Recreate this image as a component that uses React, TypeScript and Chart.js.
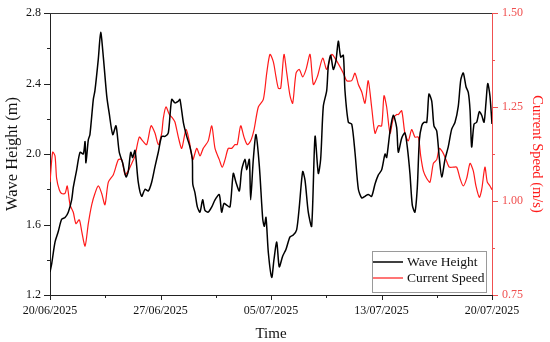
import React, { useEffect, useRef } from 'react';
import { Chart, registerables } from 'chart.js';

Chart.register(...registerables);

// Time axis in days after 20/06/2025 00:00
const dateLabels = ['20/06/2025', '27/06/2025', '05/07/2025', '13/07/2025', '20/07/2025'];

const waveDays = [
  0, 0.12, 0.34, 0.56, 0.79, 1.02, 1.24, 1.47, 1.58, 1.81,
  2.04, 2.26, 2.38, 2.44, 2.6, 2.71, 2.94, 3.05, 3.28, 3.44,
  3.62, 3.85, 4.02, 4.26, 4.48, 4.7, 4.93, 5.16, 5.31, 5.48,
  5.61, 5.77, 5.99, 6.22, 6.45, 6.67, 6.9, 7.13, 7.35, 7.58,
  7.81, 8.03, 8.26, 8.48, 8.71, 8.82, 9.05, 9.28, 9.5, 9.66,
  9.69, 9.84, 10.0, 10.18, 10.36, 10.52, 10.74, 10.98, 11.2, 11.49,
  11.65, 11.81, 11.99, 12.22, 12.44, 12.62, 12.85, 13.01, 13.24, 13.35,
  13.53, 13.62, 13.8, 13.98, 14.21, 14.44, 14.55, 14.66, 14.82, 15.05,
  15.2, 15.39, 15.56, 15.79, 16.02, 16.29, 16.51, 16.74, 16.92, 17.15,
  17.31, 17.53, 17.76, 17.99, 18.21, 18.37, 18.55, 18.78, 18.89, 19.05,
  19.23, 19.41, 19.57, 19.73, 19.91, 20.02, 20.25, 20.48, 20.7, 20.93,
  21.16, 21.38, 21.6, 21.83, 22.06, 22.28, 22.51, 22.74, 22.85, 23.08,
  23.3, 23.53, 23.64, 23.87, 24.09, 24.25, 24.43, 24.59, 24.77, 24.93,
  25.07, 25.23, 25.38, 25.57, 25.72, 25.91, 26.06, 26.25, 26.42, 26.59,
  26.81, 27.03, 27.26, 27.49, 27.71, 27.88, 28.05, 28.24, 28.39, 28.51,
  28.62, 28.78, 28.96, 29.14, 29.3, 29.46, 29.59, 29.71, 29.86, 30,
];

const waveHeight = [
  1.33, 1.38, 1.50, 1.56, 1.63, 1.64, 1.67, 1.74, 1.81, 1.91,
  2.01, 2.00, 2.07, 1.95, 2.08, 2.11, 2.31, 2.36, 2.54, 2.69,
  2.55, 2.33, 2.23, 2.11, 2.16, 2.01, 1.95, 1.87, 1.90, 2.01,
  1.98, 2.02, 1.84, 1.76, 1.80, 1.79, 1.84, 1.93, 2.01, 2.10,
  2.10, 2.12, 2.31, 2.29, 2.30, 2.31, 2.18, 2.10, 2.04, 1.97,
  1.83, 1.78, 1.70, 1.67, 1.74, 1.68, 1.67, 1.70, 1.74, 1.77,
  1.67, 1.72, 1.71, 1.70, 1.89, 1.84, 1.79, 1.91, 1.97, 1.91,
  1.97, 1.74, 1.97, 2.11, 1.93, 1.63, 1.59, 1.64, 1.44, 1.30,
  1.40, 1.50, 1.36, 1.42, 1.46, 1.53, 1.54, 1.57, 1.70, 1.90,
  1.85, 1.67, 1.59, 2.10, 1.89, 1.97, 2.27, 2.36, 2.50, 2.56,
  2.48, 2.53, 2.64, 2.55, 2.56, 2.36, 2.18, 2.17, 2.01, 1.80,
  1.75, 1.76, 1.77, 1.76, 1.83, 1.88, 1.91, 2.00, 1.98, 2.13,
  2.22, 2.15, 2.01, 2.09, 2.12, 2.04, 1.89, 1.71, 1.67, 1.81,
  2.08, 2.16, 2.18, 2.18, 2.34, 2.30, 2.16, 2.13, 1.98, 1.87,
  1.97, 2.04, 2.14, 2.18, 2.27, 2.42, 2.46, 2.38, 2.35, 2.25,
  2.04, 2.17, 2.18, 2.24, 2.22, 2.18, 2.29, 2.40, 2.33, 2.17,
];

const currentDays = [
  0, 0.18, 0.34, 0.45, 0.63, 0.79, 1.02, 1.17, 1.36, 1.58,
  1.76, 1.99, 2.15, 2.38, 2.6, 2.83, 3.05, 3.28, 3.51, 3.73,
  3.96, 4.3, 4.64, 4.87, 5.09, 5.31, 5.55, 5.77, 6.06, 6.29,
  6.56, 6.86, 7.13, 7.35, 7.58, 7.69, 7.87, 8.1, 8.33, 8.48,
  8.71, 8.94, 9.23, 9.45, 9.69, 9.96, 10.18, 10.4, 10.74, 10.98,
  11.2, 11.49, 11.69, 11.88, 12.1, 12.33, 12.56, 12.71, 12.94, 13.17,
  13.39, 13.62, 13.85, 14.14, 14.48, 14.71, 14.93, 15.16, 15.34, 15.5,
  15.66, 15.88, 16.07, 16.29, 16.47, 16.7, 16.92, 17.15, 17.38, 17.65,
  17.87, 18.14, 18.51, 18.78, 19.12, 19.34, 19.64, 19.91, 20.14, 20.48,
  20.7, 20.93, 21.16, 21.38, 21.6, 21.83, 22.06, 22.28, 22.51, 22.67,
  22.85, 23.08, 23.3, 23.53, 23.64, 23.87, 24.09, 24.32, 24.55, 24.77,
  25.0, 25.16, 25.34, 25.57, 25.79, 26.02, 26.25, 26.42, 26.65, 26.88,
  27.1, 27.37, 27.6, 27.83, 28.05, 28.28, 28.51, 28.73, 28.91, 29.14,
  29.3, 29.52, 29.68, 29.86, 30,
];

const currentSpeed = [
  1.05, 1.13, 1.12, 1.06, 1.03, 1.02, 1.02, 1.04, 0.99, 0.97,
  0.94, 0.95, 0.92, 0.88, 0.94, 0.99, 1.02, 1.04, 1.02, 0.99,
  1.05, 1.07, 1.11, 1.11, 1.07, 1.08, 1.10, 1.12, 1.17, 1.16,
  1.15, 1.20, 1.18, 1.15, 1.18, 1.22, 1.25, 1.23, 1.22, 1.21,
  1.17, 1.14, 1.19, 1.16, 1.11, 1.14, 1.12, 1.14, 1.16, 1.20,
  1.14, 1.11, 1.09, 1.11, 1.14, 1.14, 1.15, 1.15, 1.20, 1.17,
  1.15, 1.16, 1.19, 1.25, 1.27, 1.34, 1.39, 1.37, 1.33, 1.30,
  1.30, 1.39, 1.34, 1.28, 1.26, 1.34, 1.35, 1.33, 1.35, 1.39,
  1.31, 1.33, 1.38, 1.35, 1.39, 1.38, 1.36, 1.34, 1.32, 1.32,
  1.34, 1.31, 1.29, 1.26, 1.32, 1.25, 1.18, 1.20, 1.20, 1.28,
  1.25, 1.18, 1.22, 1.23, 1.23, 1.24, 1.18, 1.16, 1.19, 1.17,
  1.17, 1.12, 1.08, 1.06, 1.05, 1.10, 1.11, 1.14, 1.13, 1.11,
  1.09, 1.09, 1.09, 1.06, 1.04, 1.06, 1.10, 1.08, 1.04, 1.01,
  1.03, 1.09, 1.05, 1.04, 1.03,
];

const FONT = '"Liberation Serif", "Times New Roman", serif';
const AXIS_BLACK = '#222222';
const RED = '#ff1a1a';
const RED_AXIS = '#f05050';

const isMultiple = (v: number, step: number) => Math.abs(v / step - Math.round(v / step)) < 1e-6;

const frameTicksLegend = {
  id: 'frameTicksLegend',
  afterDraw(chart: any) {
    const { ctx, chartArea } = chart;
    ctx.save();
    // top frame line
    ctx.strokeStyle = '#333333';
    ctx.lineWidth = 1;
    ctx.beginPath();
    ctx.moveTo(chartArea.left, chartArea.top + 0.5);
    ctx.lineTo(chartArea.right, chartArea.top + 0.5);
    ctx.stroke();

    // major / minor tick marks
    const drawTicks = (scale: any, majorStep: number, majorLen: number, minorLen: number, color: string, side: string) => {
      ctx.strokeStyle = color;
      ctx.lineWidth = 1;
      ctx.beginPath();
      scale.ticks.forEach((t: any) => {
        const p = Math.round(scale.getPixelForValue(t.value)) + 0.5;
        const len = isMultiple(t.value, majorStep) ? majorLen : minorLen;
        if (side === 'left') {
          ctx.moveTo(chartArea.left, p);
          ctx.lineTo(chartArea.left - len, p);
        } else if (side === 'right') {
          ctx.moveTo(chartArea.right, p);
          ctx.lineTo(chartArea.right + len, p);
        } else {
          ctx.moveTo(p, chartArea.bottom);
          ctx.lineTo(p, chartArea.bottom + len);
        }
      });
      ctx.stroke();
    };
    drawTicks(chart.scales.y, 0.4, 6, 3, AXIS_BLACK, 'left');
    drawTicks(chart.scales.y1, 0.25, 6, 3, RED_AXIS, 'right');
    drawTicks(chart.scales.x, 7.5, 5, 3, AXIS_BLACK, 'bottom');

    // inset legend (bottom right)
    const boxW = 114;
    const boxH = 41;
    const bx = Math.round(chartArea.right - 6 - boxW);
    const by = Math.round(chartArea.bottom - 3 - boxH);
    ctx.fillStyle = '#ffffff';
    ctx.fillRect(bx, by, boxW, boxH);
    ctx.strokeStyle = '#9a9a9a';
    ctx.lineWidth = 1;
    ctx.strokeRect(bx + 0.5, by + 0.5, boxW, boxH);
    ctx.font = `13.5px ${FONT}`;
    ctx.textBaseline = 'middle';
    ctx.textAlign = 'left';
    chart.data.datasets.forEach((ds: any, i: number) => {
      const y = by + 11 + i * 16;
      ctx.strokeStyle = ds.borderColor;
      ctx.lineWidth = ds.borderWidth;
      ctx.beginPath();
      ctx.moveTo(bx + 1, y);
      ctx.lineTo(bx + 31, y);
      ctx.stroke();
      ctx.fillStyle = '#111111';
      ctx.fillText(ds.label, bx + 35, y + 0.5);
    });
    ctx.restore();
  },
};

export default function App() {
  const canvasRef = useRef<HTMLCanvasElement | null>(null);

  useEffect(() => {
    if (!canvasRef.current) return;
    const n1 = Math.min(waveDays.length, waveHeight.length);
    const n2 = Math.min(currentDays.length, currentSpeed.length);
    const hiddenTick = { drawOnChartArea: false, drawTicks: true, tickLength: 6, tickColor: 'rgba(0,0,0,0)', color: 'rgba(0,0,0,0)' };
    const chart = new Chart(canvasRef.current, {
      type: 'line',
      data: {
        datasets: [
          {
            label: 'Wave Height',
            data: waveDays.slice(0, n1).map((d, i) => ({ x: d, y: waveHeight[i] })),
            borderColor: '#000000',
            borderWidth: 1.5,
            pointRadius: 0,
            tension: 0.25,
            yAxisID: 'y',
          },
          {
            label: 'Current Speed',
            data: currentDays.slice(0, n2).map((d, i) => ({ x: d, y: currentSpeed[i] })),
            borderColor: RED,
            borderWidth: 1.2,
            pointRadius: 0,
            tension: 0.25,
            yAxisID: 'y1',
          },
        ],
      },
      options: {
        animation: false,
        responsive: false,
        maintainAspectRatio: false,
        layout: { padding: { top: 13, left: 0, right: 0, bottom: 0 } },
        plugins: {
          legend: { display: false },
          tooltip: { enabled: false },
        },
        scales: {
          x: {
            type: 'linear',
            min: 0,
            max: 30,
            afterFit: (s: any) => { s.height = 47; },
            ticks: {
              stepSize: 3.75,
              autoSkip: false,
              maxRotation: 0,
              padding: 3,
              color: '#111111',
              font: { family: FONT, size: 12 },
              callback: (v: any) => (isMultiple(Number(v), 7.5) ? dateLabels[Math.round(Number(v) / 7.5)] : ''),
            },
            grid: { ...hiddenTick },
            border: { color: AXIS_BLACK, width: 1 },
            title: { display: true, text: 'Time', color: '#111111', font: { family: FONT, size: 15, lineHeight: 1 }, padding: { top: 0, bottom: 0 } },
          },
          y: {
            type: 'linear',
            position: 'left',
            min: 1.2,
            max: 2.8,
            afterFit: (s: any) => { s.width = 50; },
            ticks: {
              stepSize: 0.2,
              padding: 3,
              color: '#111111',
              font: { family: FONT, size: 12 },
              callback: (v: any) => (isMultiple(Number(v), 0.4) ? Number(v).toFixed(1) : ''),
            },
            grid: { ...hiddenTick },
            border: { color: AXIS_BLACK, width: 1 },
            title: { display: true, text: 'Wave Height (m)', color: '#111111', font: { family: FONT, size: 16.5 }, padding: { top: 3, bottom: 3 } },
          },
          y1: {
            type: 'linear',
            position: 'right',
            min: 0.75,
            max: 1.5,
            afterFit: (s: any) => { s.width = 58; },
            ticks: {
              stepSize: 0.125,
              padding: 4,
              color: RED_AXIS,
              font: { family: FONT, size: 12 },
              callback: (v: any) => (isMultiple(Number(v), 0.25) ? Number(v).toFixed(2) : ''),
            },
            grid: { ...hiddenTick },
            border: { color: RED_AXIS, width: 1 },
            title: { display: true, text: 'Current Speed (m/s)', color: RED, font: { family: FONT, size: 14.5 }, padding: { top: 4, bottom: 4 } },
          },
        },
      },
      plugins: [frameTicksLegend],
    } as any);
    return () => chart.destroy();
  }, []);

  return (
    <div style={{ position: 'absolute', left: 0, top: 0, width: 550, height: 342, background: '#ffffff' }}>
      <canvas ref={canvasRef} width={550} height={342} style={{ display: 'block', width: 550, height: 342 }} />
    </div>
  );
}
